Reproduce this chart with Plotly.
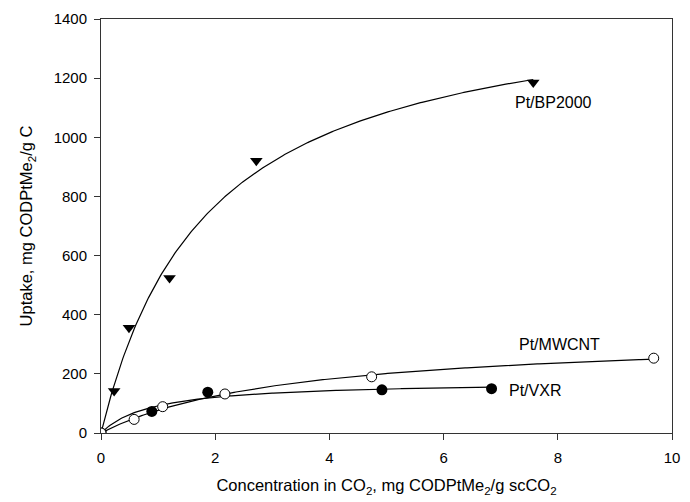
import numpy as np
import plotly.graph_objects as go

# Uptake measurements, mg CODPtMe2 / g C vs concentration in scCO2
bp2000_x = [0.0, 0.23, 0.49, 1.20, 2.72, 7.57]
bp2000_y = [0, 142, 356, 524, 921, 1185]

mwcnt_x = [0.0, 0.58, 1.08, 2.17, 4.74, 9.68]
mwcnt_y = [0, 46, 89, 132, 190, 253]

vxr_x = [0.0, 0.89, 1.87, 4.92, 6.84]
vxr_y = [0, 73, 138, 146, 150]

x_ticks = [0, 2, 4, 6, 8, 10]
y_ticks = [0, 200, 400, 600, 800, 1000, 1200, 1400]

FONT = "Liberation Sans, Arial, sans-serif"


def langmuir_fit(xs, ys):
    """Least-squares Langmuir isotherm q = qm*c/(b+c); returns (qm, b)."""
    xs = np.asarray(xs, float)
    ys = np.asarray(ys, float)
    best = None
    for b in np.linspace(0.01, 10, 4000):
        f = xs / (b + xs)
        qm = float(np.dot(f, ys) / np.dot(f, f))
        err = float(np.sum((qm * f - ys) ** 2))
        if best is None or err < best[0]:
            best = (err, qm, b)
    return best[1], best[2]


def fit_curve(xs, ys):
    qm, b = langmuir_fit(xs, ys)
    cx = np.linspace(0, max(xs), 300)
    return cx, qm * cx / (b + cx)


fig = go.Figure()

for xs, ys in [(bp2000_x, bp2000_y), (mwcnt_x, mwcnt_y), (vxr_x, vxr_y)]:
    cx, cy = fit_curve(xs, ys)
    fig.add_trace(go.Scatter(x=cx, y=cy, mode="lines",
                             line=dict(color="black", width=1.2),
                             showlegend=False, hoverinfo="skip"))

fig.add_trace(go.Scatter(x=bp2000_x, y=bp2000_y, mode="markers",
                         marker=dict(symbol="triangle-down", size=11, color="black",
                                     line=dict(width=0)),
                         name="Pt/BP2000", showlegend=False))
fig.add_trace(go.Scatter(x=vxr_x, y=vxr_y, mode="markers",
                         marker=dict(symbol="circle", size=11, color="black",
                                     line=dict(width=0)),
                         name="Pt/VXR", showlegend=False))
fig.add_trace(go.Scatter(x=mwcnt_x, y=mwcnt_y, mode="markers",
                         marker=dict(symbol="circle", size=10, color="white",
                                     line=dict(color="black", width=1)),
                         name="Pt/MWCNT", showlegend=False))

label_font = dict(family=FONT, size=16, color="black")
fig.add_annotation(x=7.93, y=1116, text="Pt/BP2000", showarrow=False, font=label_font)
fig.add_annotation(x=8.03, y=298, text="Pt/MWCNT", showarrow=False, font=label_font)
fig.add_annotation(x=7.11, y=145, text="Pt/VXR", showarrow=False, xanchor="left",
                   font=label_font)

axis_common = dict(showgrid=False, zeroline=False, showline=True, linecolor="#333",
                   linewidth=1, mirror=True, ticks="outside", ticklen=6,
                   tickcolor="#333", tickwidth=1,
                   tickfont=dict(family=FONT, size=15, color="black"))

fig.update_xaxes(range=[0, 10], tickvals=x_ticks, ticklabelstandoff=5,
                 title=dict(text="Concentration in CO<sub>2</sub>, mg CODPtMe<sub>2</sub>/g scCO<sub>2</sub>",
                            font=dict(family=FONT, size=16.5, color="black"),
                            standoff=14),
                 **axis_common)
fig.update_yaxes(range=[0, 1400], tickvals=y_ticks, ticklabelstandoff=4,
                 title=dict(text="Uptake, mg CODPtMe<sub>2</sub>/g C",
                            font=dict(family=FONT, size=16.5, color="black"),
                            standoff=16),
                 **axis_common)

fig.update_layout(width=690, height=502,
                  margin=dict(l=101, r=10, t=19, b=69),
                  plot_bgcolor="white", paper_bgcolor="white")

fig.write_html("out.html")
